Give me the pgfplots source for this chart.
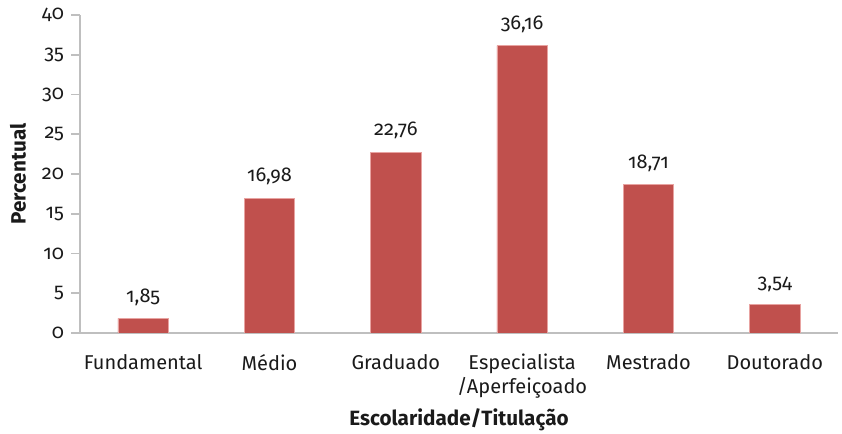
\documentclass[border=0pt]{standalone}
\usepackage{fontspec}
\setmainfont{Fira Sans}[Numbers=OldStyle]
\usepackage{pgfplots}
\pgfplotsset{compat=1.18}
\definecolor{barred}{HTML}{C0504D}
\definecolor{baredge}{HTML}{E8A3A1}
\definecolor{axgray}{HTML}{BFBFBF}
\definecolor{txt}{HTML}{1A1A1A}

\begin{document}
\begin{tikzpicture}[x=0.75pt,y=0.75pt]
  \useasboundingbox (-80,-101) rectangle (762,333);
  \begin{axis}[at={(0,0)}, anchor=south west, scale only axis,
      width=568.5pt, height=238.5pt,
      ybar, bar width=0.4,
      xmin=-0.5, xmax=5.5, ymin=0, ymax=40,
      xtick={0,1,2,3,4,5},
      xticklabels={Fundamental,Médio,Graduado,Especialista\\/Aperfeiçoado,Mestrado,Doutorado},
      xticklabel style={align=center, font=\fontsize{15}{18}\selectfont, text=txt, yshift=-6pt},
      xtick style={draw=none},
      ytick={0,5,...,40},
      yticklabel style={font=\fontsize{15}{18}\selectfont, text=txt, xshift=-2pt},
      /pgf/number format/assume math mode=true,
      axis x line=bottom, axis y line=left,
      axis line style={axgray, line width=1.2pt, -},
      y axis line style={line width=1.5pt},
      ytick style={axgray, line width=1.2pt},
      tick align=outside, major tick length=6.5pt,
      xlabel={\textbf{Escolaridade/Titulação}},
      ylabel={\textbf{Percentual}},
      label style={font=\fontsize{15.5}{18}\selectfont, text=txt},
      xlabel style={at={(axis description cs:0.5,-0.2736)}, anchor=center},
      ylabel style={at={(axis description cs:-0.0818,0.5)}, anchor=center},
      nodes near coords,
      nodes near coords style={font=\fontsize{15}{18}\selectfont, text=txt, yshift=6pt,
        /pgf/number format/fixed, /pgf/number format/fixed zerofill,
        /pgf/number format/precision=2, /pgf/number format/use comma},
    ]
    \addplot[fill=barred, draw=baredge, line width=0.6pt] coordinates
      {(0,1.85)(1,16.98)(2,22.76)(3,36.16)(4,18.71)(5,3.54)};
  \end{axis}
\end{tikzpicture}
\end{document}
